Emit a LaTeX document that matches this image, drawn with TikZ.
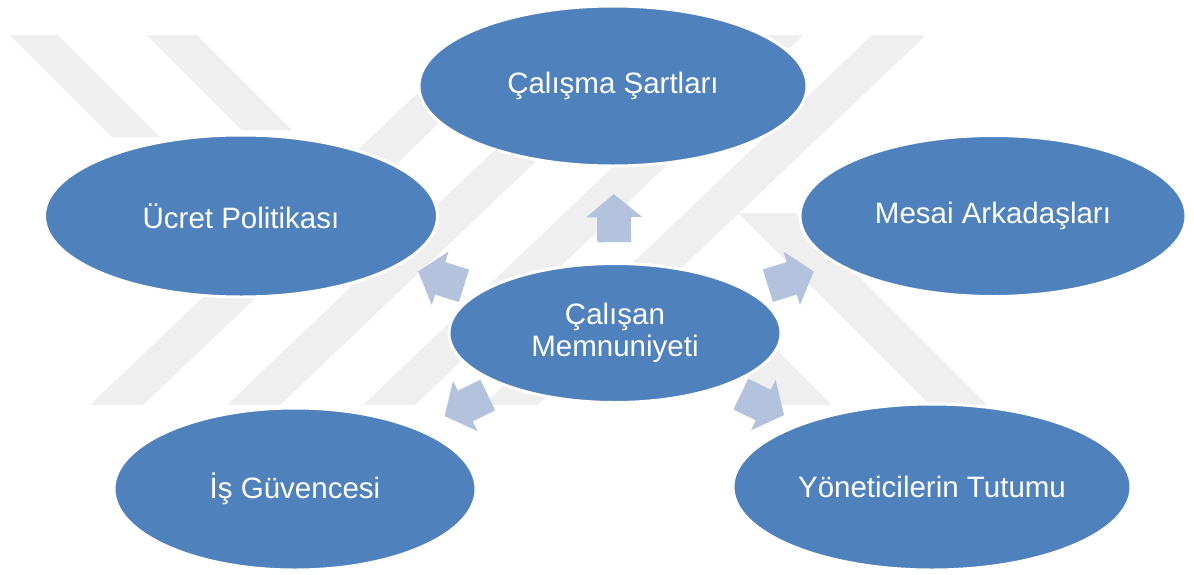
\documentclass[tikz,border=0pt]{standalone}
\usepackage{fontspec}
\setmainfont{Liberation Sans}
\usetikzlibrary{shapes.geometric,calc}
\definecolor{ellblue}{HTML}{4F81BD}
\definecolor{arrblue}{HTML}{B3C3DE}
\definecolor{wmark}{HTML}{EFEFEF}
\tikzset{
  bubble/.style={ellipse, fill=ellblue, draw=white, line width=3pt, inner sep=0pt,
    text=white, font=\fontsize{29.5}{32}\selectfont, align=center},
  wm/.style={fill=wmark, draw=none},
  blockarrow/.pic={\fill[arrblue] (-24pt,-17pt) -- (1pt,-17pt) -- (1pt,-28pt) -- (24pt,0pt)
      -- (1pt,28pt) -- (1pt,17pt) -- (-24pt,17pt) -- cycle;}
}
\begin{document}
\begin{tikzpicture}[x=1pt,y=-1pt]
\useasboundingbox (0,0) rectangle (1194,574);
\fill[white] (0,0) rectangle (1194,574);
% watermark
\fill[wm] (10,35) -- (58,35) -- (160,137) -- (112,137) -- cycle;
\fill[wm] (147,35) -- (197,35) -- (292,130) -- (242,130) -- cycle;
\fill[wm] (90,405) -- (143,405) -- (531.5,35) -- (478.5,35) -- cycle;
\fill[wm] (227,405) -- (280,405) -- (668.5,35) -- (615.5,35) -- cycle;
\fill[wm] (363,405) -- (415,405) -- (803.5,35) -- (751.5,35) -- cycle;
\fill[wm] (483.5,405) -- (537.5,405) -- (926,35) -- (872,35) -- cycle;
\fill[wm] (738,213) -- (795,213) -- (987,405) -- (930,405) -- cycle;
\fill[wm] (650,280) -- (707,280) -- (832,405) -- (775,405) -- cycle;
% ellipses
\node[bubble, minimum width=388pt, minimum height=160pt] (nTop) at (613,86) {Çalışma Şartları};
\node[bubble, minimum width=393pt, minimum height=162pt] (nLeft) at (241,216) {Ücret Politikası};
\node[bubble, minimum width=386pt, minimum height=161pt] (nRight) at (993,216) {Mesai Arkadaşları};
\node[bubble, minimum width=362pt, minimum height=162pt] (nBL) at (295,489) {İş Güvencesi};
\node[bubble, minimum width=398pt, minimum height=166pt] (nBR) at (932,487) {Yöneticilerin Tutumu};
\node[bubble, minimum width=332pt, minimum height=139pt] (nCenter) at (615,333) {Çalışan\\Memnuniyeti};
% block arrows
\foreach \t in {nTop,nLeft,nRight,nBL,nBR}{
  \path let \p1=(nCenter.center), \p2=(\t.center), \n1={atan2(\y2-\y1,\x2-\x1)} in
    ($(nCenter.center)!0.465!(\t.center)$) pic[rotate=\n1] {blockarrow};
}
\end{tikzpicture}
\end{document}
